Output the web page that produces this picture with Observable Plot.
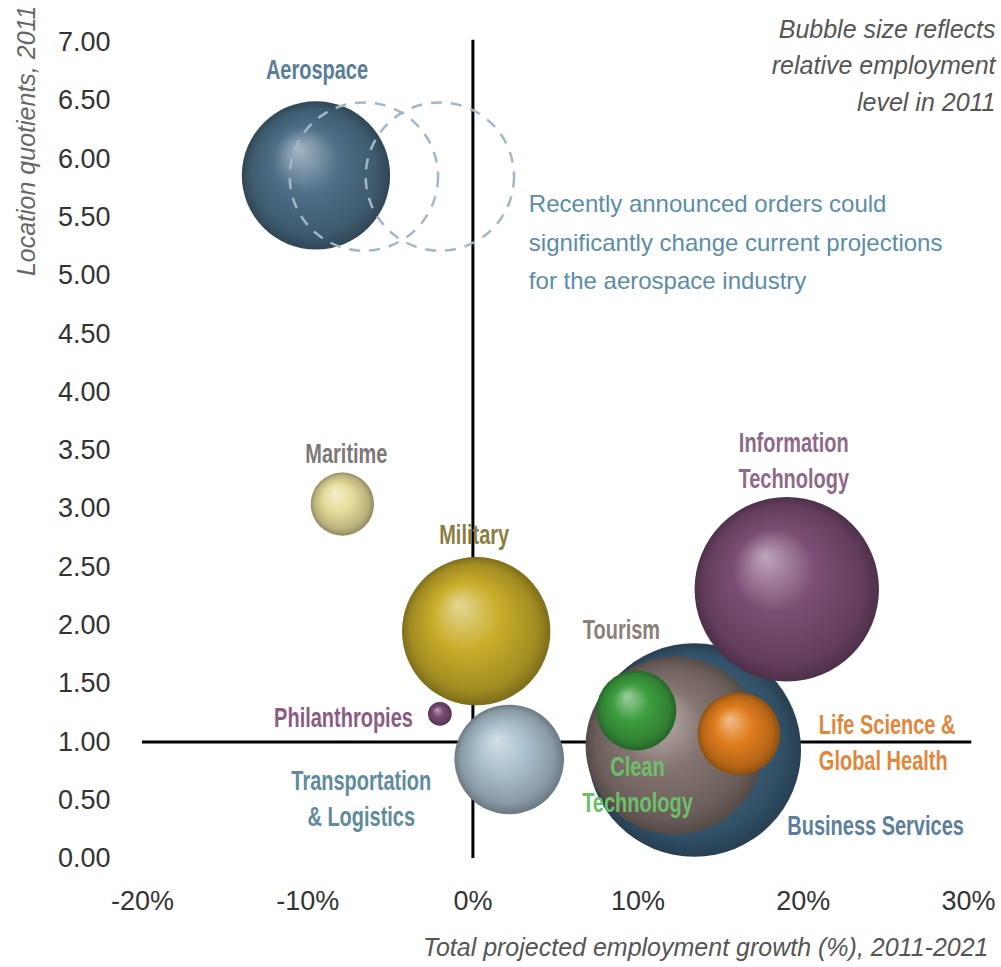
<!DOCTYPE html>
<html><head><meta charset="utf-8">
<script src="https://cdn.jsdelivr.net/npm/d3@7"></script>
<script src="https://cdn.jsdelivr.net/npm/@observablehq/plot@0.6"></script>
<style>
html,body{margin:0;padding:0;background:#fff;}
#chart svg{display:block;}
</style>
</head><body>
<div id="chart"></div>
<script>
// ---- data ----
const clusters = ["Aerospace","Maritime","Military","Philanthropies","Transportation & Logistics","Business Services","Tourism","Information Technology","Clean Technology","Life Science & Global Health"];
const growth = [-9.5, -7.9, 0.2, -2.0, 2.2, 13.4, 12.2, 19.0, 9.9, 16.1];          // % 2011-2021
const locationQuotient = [5.86, 3.04, 1.95, 1.24, 0.85, 0.93, 0.97, 2.31, 1.27, 1.07];
const employment = [55, 10, 55, 1.4, 30, 114, 79, 85, 16, 17];                     // relative employment 2011
const labelTexts = ["Aerospace","Maritime","Military","Philanthropies","Transportation\n& Logistics","Business Services","Tourism","Information\nTechnology","Clean\nTechnology","Life Science &\nGlobal Health"];
const bubbleColors = ["#4d6f87","#e6dc9a","#c9ae2a","#7b4a76","#a9bfcd","#3e6480","#857570","#7c4d74","#3d9e3f","#e07d1c"];
const labelColors = ["#5a7d98","#7d7875","#8c7d3e","#8a5c82","#5f8b9b","#5d7f9c","#8c7f78","#8d6b88","#6cc06a","#e0873c"];

const projectedGrowth = [-6.6, -2.0];
const projectedLQ = [5.85, 5.85];
const projectedEmployment = [55, 55];

const xTicks = [-20, -10, 0, 10, 20, 30];
const yTicks = [0, 0.5, 1, 1.5, 2, 2.5, 3, 3.5, 4, 4.5, 5, 5.5, 6, 6.5, 7];

const noteText = "Bubble size reflects\nrelative employment\nlevel in 2011";
const annotationText = "Recently announced orders could\nsignificantly change current projections\nfor the aerospace industry";
const xTitle = "Total projected employment growth (%), 2011-2021";
const yTitle = "Location quotients, 2011";

// ---- build ----
const rows = clusters.map((name, i) => ({name, i, growth: growth[i], lq: locationQuotient[i], employment: employment[i], label: labelTexts[i], labelColor: labelColors[i]}));
const projections = projectedGrowth.map((g, i) => ({growth: g, lq: projectedLQ[i], employment: projectedEmployment[i]}));

const placement = {
  "Aerospace": {dx: 1, dy: -108, anchor: "middle"},
  "Maritime": {dx: 4, dy: -53, anchor: "middle"},
  "Military": {dx: -2, dy: -99, anchor: "middle"},
  "Philanthropies": {dx: -27, dy: 2, anchor: "end"},
  "Transportation & Logistics": {dx: -148, dy: 37, anchor: "middle"},
  "Business Services": {dx: 93, dy: 73, anchor: "start"},
  "Tourism": {dx: -53, dy: -118, anchor: "middle"},
  "Information Technology": {dx: 7, dy: -131, anchor: "middle"},
  "Clean Technology": {dx: 1, dy: 72, anchor: "middle"},
  "Life Science & Global Health": {dx: 80, dy: 7, anchor: "start"}
};

const FONT = "'Liberation Sans', Arial, sans-serif";
const noteFill = "#555";

const labelMarks = rows.map(d => {
  const p = placement[d.name];
  return Plot.text([d], {
    x: "growth", y: "lq", text: "label",
    dx: p.dx, dy: p.dy, textAnchor: p.anchor, lineAnchor: "middle",
    fill: d.labelColor, fontWeight: "bold", fontSize: 27, lineHeight: 1.33,
    fontFamily: FONT, ariaDescription: "cluster-label"
  });
});

const svg = Plot.plot({
  width: 1001, height: 967,
  marginLeft: 142, marginRight: 33, marginTop: 42, marginBottom: 109,
  x: {domain: [-20, 30], label: null},
  y: {domain: [0, 7], label: null},
  r: {type: "sqrt", domain: [0, 100], range: [0, 100]},
  color: {type: "identity"},
  style: {fontFamily: FONT, background: "#fff", overflow: "visible"},
  marks: [
    Plot.axisY({ticks: yTicks, tickFormat: d3.format(".2f"), tickSize: 0, tickPadding: 32, fontSize: 27, color: "#333", label: null}),
    Plot.axisX({ticks: xTicks, tickFormat: d => d + "%", tickSize: 0, tickPadding: 32, fontSize: 27, color: "#333", label: null}),
    Plot.ruleX([0], {y1: 0, y2: 7.02, stroke: "#000", strokeWidth: 3}),
    Plot.ruleY([1], {x1: -20, x2: 30.2, stroke: "#000", strokeWidth: 3}),
    Plot.dot(rows, {x: "growth", y: "lq", r: "employment", fill: d => `url(#bubble-${d.i})`, stroke: "none"}),
    Plot.dot(projections, {x: "growth", y: "lq", r: "employment", fill: "none", stroke: "#a3b7c6", strokeWidth: 2.5, strokeDasharray: "11,9"}),
    ...labelMarks,
    Plot.text([annotationText], {x: () => projectedGrowth[1], y: () => projectedLQ[1], text: d => d, dx: 89, dy: 62, textAnchor: "start", lineAnchor: "middle", fontSize: 24, lineHeight: 1.6, fill: "#5b8da5", fontFamily: FONT}),
    Plot.text([noteText], {frameAnchor: "top-right", text: d => d, dx: 27, dy: 20, textAnchor: "end", lineAnchor: "middle", fontSize: 25, lineHeight: 1.46, fontStyle: "italic", fill: noteFill}),
    Plot.text([xTitle], {frameAnchor: "bottom-right", text: d => d, dx: 20, dy: 89, textAnchor: "end", lineAnchor: "middle", fontSize: 25, fontStyle: "italic", fill: noteFill}),
    Plot.text([yTitle], {frameAnchor: "top-left", text: d => d, dx: -116, dy: -37, rotate: -90, textAnchor: "end", lineAnchor: "middle", fontSize: 25, fontStyle: "italic", fill: "#666"})
  ]
});

// sphere-like radial gradients
const defs = d3.select(svg).insert("defs", ":first-child");
rows.forEach((d, i) => {
  const base = d3.color(bubbleColors[i]);
  const g = defs.append("radialGradient").attr("id", `bubble-${i}`)
    .attr("cx", "50%").attr("cy", "50%").attr("r", "50%").attr("fx", "38%").attr("fy", "32%");
  g.append("stop").attr("offset", "0%").attr("stop-color", d3.interpolateRgb(base.formatHex(), "#fff")(0.5));
  g.append("stop").attr("offset", "45%").attr("stop-color", base.formatHex());
  g.append("stop").attr("offset", "85%").attr("stop-color", base.darker(0.6).formatHex());
  g.append("stop").attr("offset", "100%").attr("stop-color", base.darker(1.3).formatHex());
});

// condensed look for the cluster labels
d3.select(svg).selectAll('g[aria-description="cluster-label"] text').each(function() {
  let t = this.getAttribute("transform");
  if (!t) {
    const x = this.getAttribute("x") || 0, y = this.getAttribute("y") || 0;
    this.removeAttribute("x"); this.removeAttribute("y");
    t = `translate(${x},${y})`;
  }
  this.setAttribute("transform", t + " scale(0.74,1)");
});

document.getElementById("chart").appendChild(svg);
</script>
</body></html>
